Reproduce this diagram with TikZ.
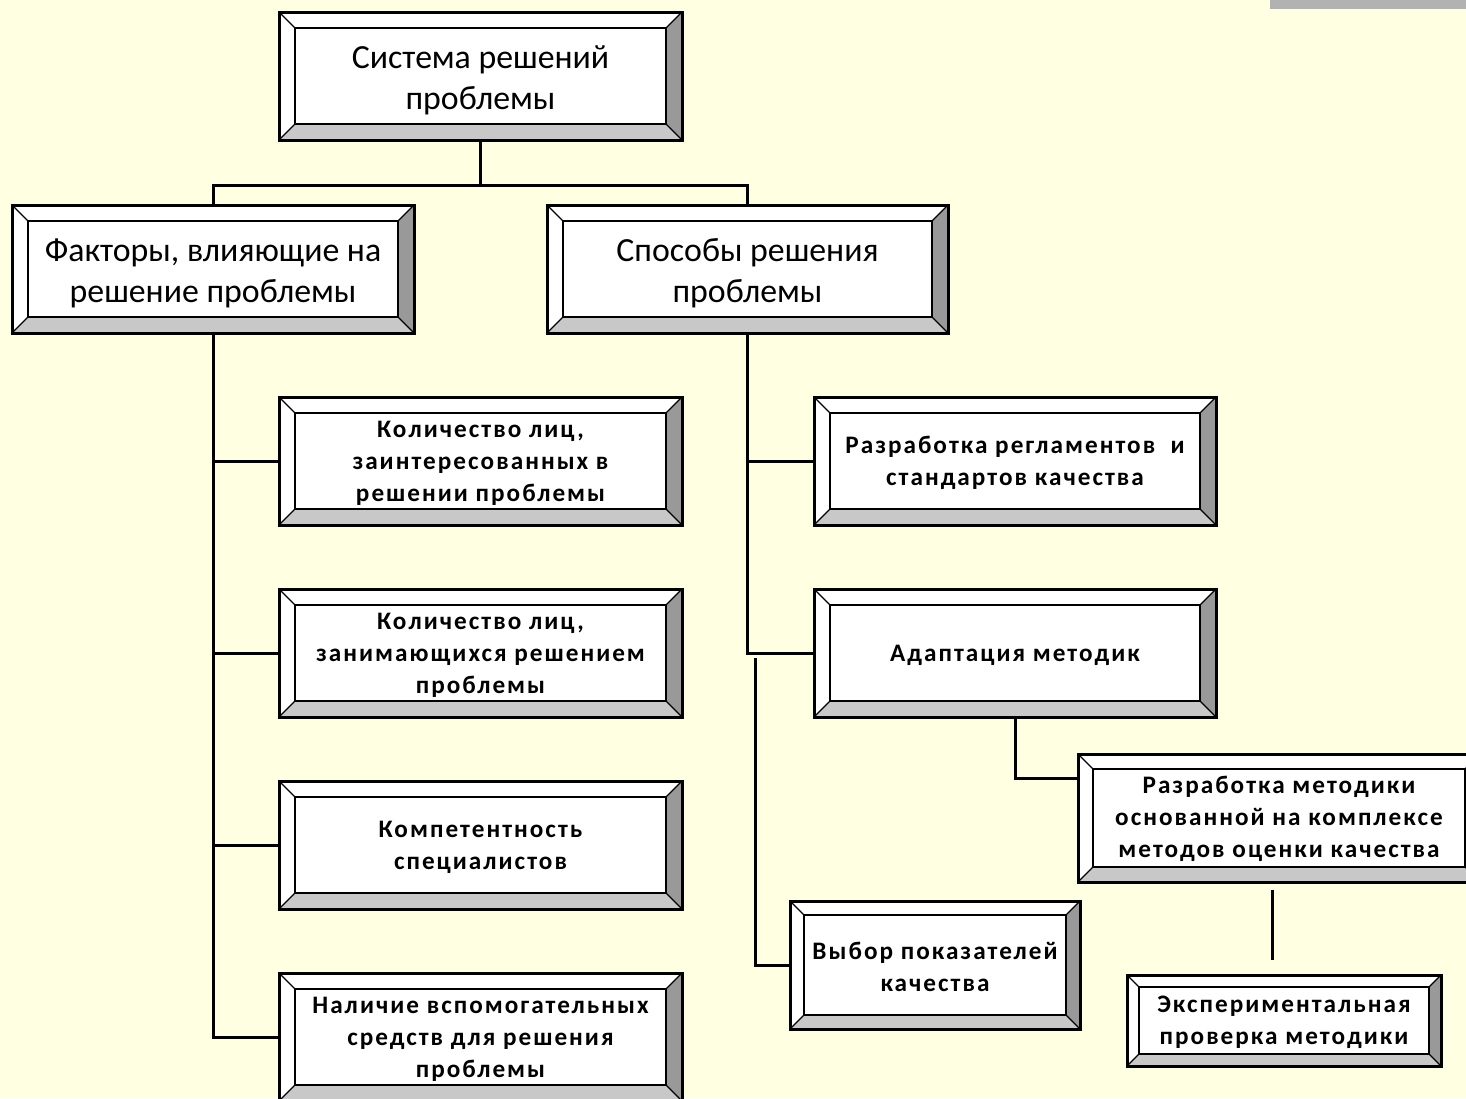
\documentclass[tikz,border=0pt]{standalone}
\usepackage{fontspec}
\setmainfont{Carlito}
\newfontfamily\boxfont[LetterSpace=8]{Carlito}
\usetikzlibrary{calc}
\definecolor{bg}{HTML}{FFFFE1}
\definecolor{bevdark}{HTML}{999999}
\definecolor{bevlight}{HTML}{C8C8C8}
\definecolor{barg}{HTML}{B2B2B2}
\tikzset{
  outerline/.style={draw=black,line width=1.5pt},
  innerline/.style={draw=black,line width=1pt},
  diagline/.style={draw=black,line width=0.6pt},
  conn/.style={draw=black,line width=1.5pt},
  bigtext/.style={font=\fontsize{16.9}{20.5}\selectfont},
  smalltext/.style={font=\boxfont\bfseries\fontsize{12.6}{16}\selectfont},
}
% #1 name, #2 x1, #3 y1, #4 x2, #5 y2, #6 bevel, #7 style, #8 text offset, #9 text
\newcommand\bevbox[9]{%
  \fill[white] (#2,#3) rectangle (#4,#5);
  \fill[bevlight] (#2,#5) -- (#4,#5) -- (#4-#6,#5-#6) -- (#2+#6,#5-#6) -- cycle;
  \fill[bevdark] (#4,#3) -- (#4,#5) -- (#4-#6,#5-#6) -- (#4-#6,#3+#6) -- cycle;
  \draw[diagline] (#2,#3) -- (#2+#6,#3+#6) (#4,#3) -- (#4-#6,#3+#6)
                  (#2,#5) -- (#2+#6,#5-#6) (#4,#5) -- (#4-#6,#5-#6);
  \draw[innerline] (#2+#6,#3+#6) rectangle (#4-#6,#5-#6);
  \draw[outerline] (#2,#3) rectangle (#4,#5);
  \node[inner sep=0pt, minimum width={(#4-#2)*0.5pt},
        minimum height={(#5-#3)*0.5pt}] (#1) at ({(#2+#4)/2},{(#3+#5)/2}) {};
  \node[#7, inner sep=0pt, align=center] (#1-t) at ({(#2+#4)/2},{(#3+#5)/2+#8}) {#9};
}
\begin{document}
\begin{tikzpicture}[x=0.5pt,y=-0.5pt]
\useasboundingbox (0,0) rectangle (1466,1098);
\clip (0,0) rectangle (1466,1098);
\fill[bg] (0,0) rectangle (1466,1098);
\fill[barg] (1270,0) rectangle (1466,9);

\bevbox{top}{279}{12}{682}{140}{16}{bigtext}{4}{Система решений\\проблемы}
\bevbox{fac}{12}{205}{414}{333}{16}{bigtext}{4}{Факторы, влияющие на\\решение проблемы}
\bevbox{sp}{547}{205}{948}{333}{16}{bigtext}{4}{Способы решения\\проблемы}
\bevbox{k1}{279}{397}{682}{525}{16}{smalltext}{2}{Количество лиц,\\заинтересованных в\\решении проблемы}
\bevbox{k2}{279}{589}{682}{717}{16}{smalltext}{2}{Количество лиц,\\занимающихся решением\\проблемы}
\bevbox{k3}{279}{781}{682}{909}{16}{smalltext}{2}{Компетентность\\специалистов}
\bevbox{k4}{279}{973}{682}{1101}{16}{smalltext}{2}{Наличие вспомогательных\\средств для решения\\проблемы}
\bevbox{r1}{814}{397}{1216}{525}{16}{smalltext}{2}{Разработка регламентов\ \ и\\стандартов качества}
\bevbox{r2}{814}{589}{1216}{717}{16}{smalltext}{2}{Адаптация методик}
\bevbox{r3}{1078}{754}{1480}{882}{15}{smalltext}{1}{Разработка методики\\основанной на комплексе\\методов оценки качества}
\bevbox{r4}{790}{901}{1080}{1029}{14}{smalltext}{2}{Выбор показателей\\качества}
\bevbox{r5}{1127}{975}{1441}{1066}{12}{smalltext}{2}{Экспериментальная\\проверка методики}

% connectors
\coordinate (j1) at (top.south |- 0,185);
\draw[conn] (top.south) -- (j1);
\draw[conn] (fac.north) |- (j1) -| (sp.north);
\draw[conn] (fac.south) |- (k4.west);
\draw[conn] (k1.west) -- (k1.west -| fac.south);
\draw[conn] (k2.west) -- (k2.west -| fac.south);
\draw[conn] (k3.west) -- (k3.west -| fac.south);
\draw[conn] (sp.south) |- (r2.west);
\draw[conn] (r1.west) -- (r1.west -| sp.south);
\coordinate (s1) at (755,658);
\draw[conn] (s1) |- (r4.west);
\coordinate (c3) at (1078,778);
\draw[conn] (r2.south) |- (c3);
\coordinate (d1) at (1272,890);
\coordinate (d2) at (1272,960);
\draw[conn] (d1) -- (d2);
\end{tikzpicture}
\end{document}
